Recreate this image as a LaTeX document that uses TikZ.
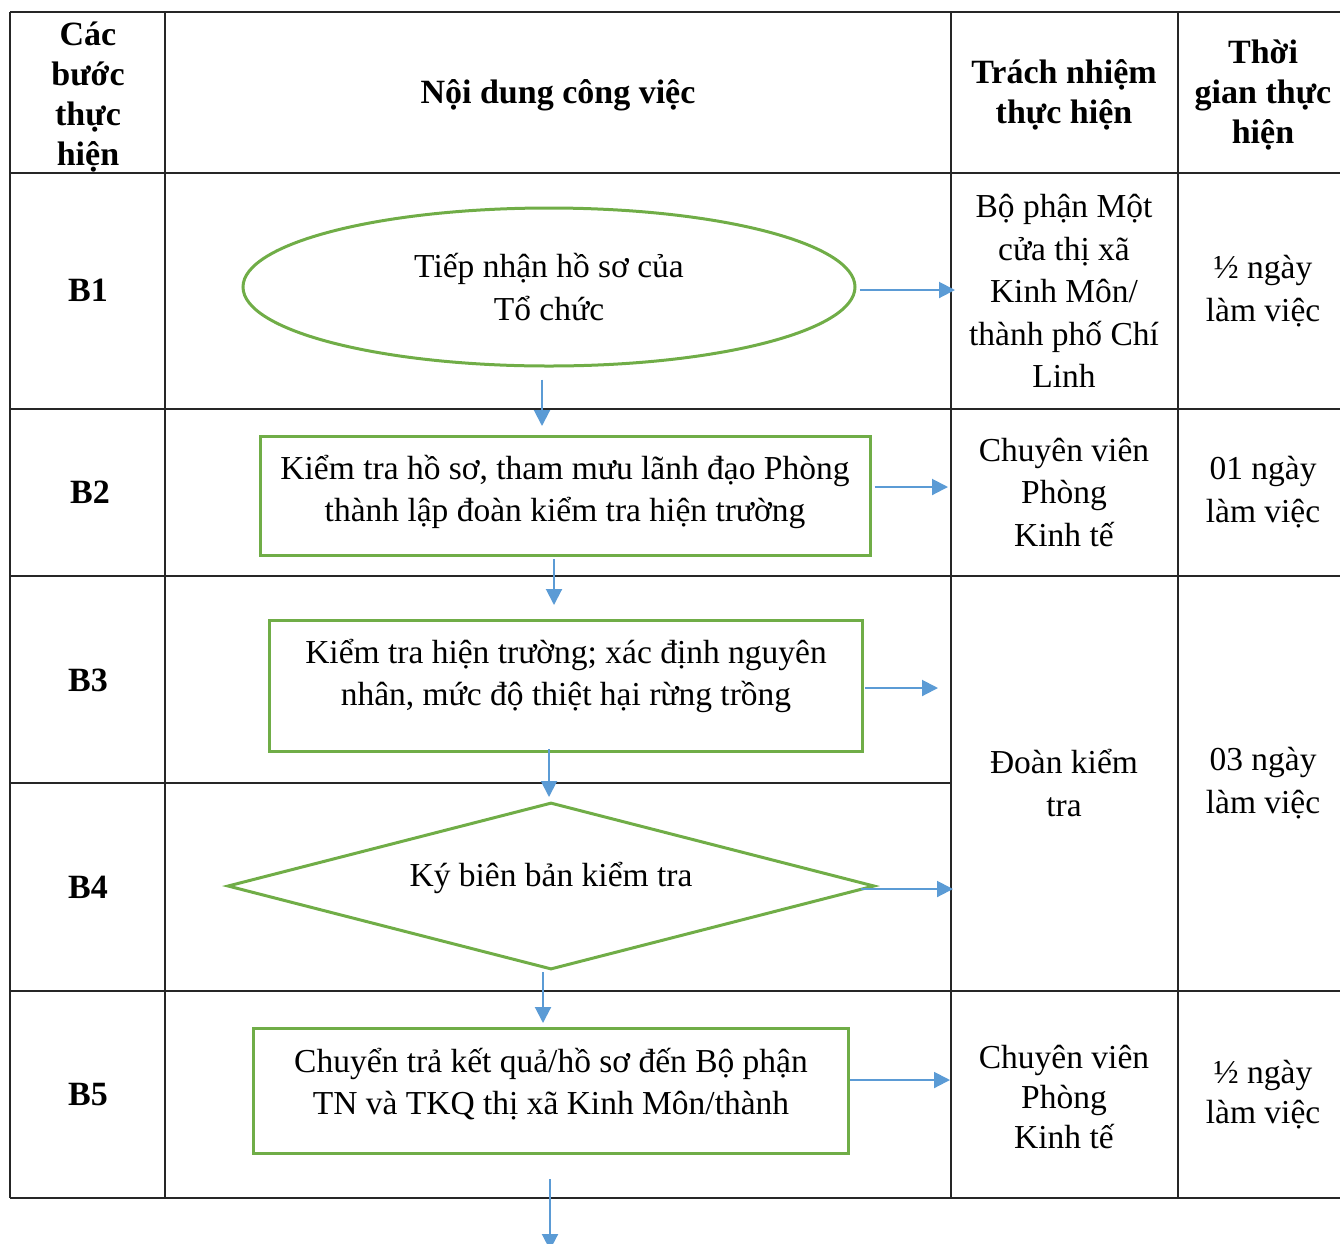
\documentclass[tikz,border=0pt]{standalone}
\usepackage{fontspec}
\setmainfont{Liberation Serif}
\usetikzlibrary{shapes.geometric,arrows.meta}
\definecolor{xanhla}{RGB}{112,173,71}
\definecolor{xanhduong}{RGB}{91,155,213}

\begin{document}
\begin{tikzpicture}[x=1pt,y=-1pt,
  every node/.style={font=\fontsize{33.5}{42.5}\selectfont, align=center},
  hdr/.style={font=\fontsize{34}{40}\selectfont\bfseries},
  khung/.style={draw=xanhla, line width=3pt, rectangle, inner sep=0pt},
  flow/.style={draw=xanhduong, line width=2pt, -{Triangle[width=16pt,length=16pt]}},
  bang/.style={line width=2pt, black!85}]
\useasboundingbox (0,0) rectangle (1340,1243);

% table
\draw[bang] (10,12) -- (1340,12);
\draw[bang] (10,173) -- (1340,173);
\draw[bang] (10,409) -- (1340,409);
\draw[bang] (10,576) -- (1340,576);
\draw[bang] (10,783) -- (951,783);
\draw[bang] (10,991) -- (1340,991);
\draw[bang] (10,1198) -- (1340,1198);
\draw[bang] (10,12) -- (10,1198);
\draw[bang] (165,12) -- (165,1198);
\draw[bang] (951,12) -- (951,1198);
\draw[bang] (1178,12) -- (1178,1198);

% header
\node[hdr] (hbuoc) at (88,97) {Các\\bước\\thực\\hiện};
\node[hdr] (hnoidung) at (558,95) {Nội dung công việc};
\node[hdr] (htrach) at (1064,95) {Trách nhiệm\\thực hiện};
\node[hdr] (hthoigian) at (1263,95) {Thời\\gian thực\\hiện};

% steps
\node[hdr] (b1) at (88,290) {B1};
\node[hdr] (b2) at (90,492) {B2};
\node[hdr] (b3) at (88,680) {B3};
\node[hdr] (b4) at (88,887) {B4};
\node[hdr] (b5) at (88,1095) {B5};

% flow shapes
\node[ellipse, draw=xanhla, line width=3pt, minimum width=612pt, minimum height=158pt, inner sep=0pt] (tiepnhan) at (549,287) {Tiếp nhận hồ sơ của\\Tổ chức};
\node[khung, minimum width=610pt, minimum height=119pt, text depth=15pt] (kiemtrahs) at (565,496) {Kiểm tra hồ sơ, tham mưu lãnh đạo Phòng\\thành lập đoàn kiểm tra hiện trường};
\node[khung, minimum width=593pt, minimum height=131pt, text depth=27pt] (kiemtraht) at (566,686) {Kiểm tra hiện trường; xác định nguyên\\nhân, mức độ thiệt hại rừng trồng};
\node[diamond, draw=xanhla, line width=3pt, aspect=3.9, inner sep=0pt, minimum width=647pt, minimum height=167pt, text depth=23pt] (kybienban) at (551,886) {Ký biên bản kiểm tra};
\node[khung, minimum width=595pt, minimum height=125pt, text depth=19pt] (chuyentra) at (551,1091) {Chuyển trả kết quả/hồ sơ đến Bộ phận\\TN và TKQ thị xã Kinh Môn/thành};

% responsibility and time
\node (trach1) at (1064,291) {Bộ phận Một\\cửa thị xã\\Kinh Môn/\\thành phố Chí\\Linh};
\node (tg1) at (1263,291) {½ ngày\\làm việc};
\node (trach2) at (1064,492) {Chuyên viên\\Phòng\\Kinh tế};
\node (tg2) at (1263,492) {01 ngày\\làm việc};
\node (trach34) at (1064,783) {Đoàn kiểm\\tra};
\node (tg34) at (1263,783) {03 ngày\\làm việc};
\node[font=\fontsize{33.5}{40}\selectfont] (trach5) at (1064,1097) {Chuyên viên\\Phòng\\Kinh tế};
\node[font=\fontsize{33.5}{40}\selectfont] (tg5) at (1263,1095) {½ ngày\\làm việc};

% arrow ends
\coordinate (r1) at (955,290);
\coordinate (r2) at (948,487);
\coordinate (r3) at (938,688);
\coordinate (r4) at (953,889);
\coordinate (r5) at (950,1080);
\coordinate (ketthuc) at (550,1250);

\draw[flow, shorten <=12pt, shorten >=9pt] (tiepnhan.south) ++(-7,0) -- (kiemtrahs.north -| 542,0);
\draw[flow, shorten <=2pt, shorten >=14pt] (kiemtrahs.south -| 554,0) -- (kiemtraht.north -| 554,0);
\draw[flow, shorten <=-4pt, shorten >=4pt] (kiemtraht.south -| 549,0) -- (kybienban.north -| 549,0);
\draw[flow, shorten <=1pt, shorten >=4pt] (kybienban.south -| 543,0) -- (chuyentra.north -| 543,0);
\draw[flow, shorten <=24pt] (chuyentra.south -| ketthuc) -- (ketthuc);

\draw[flow, shorten <=3pt] (tiepnhan.east |- r1) -- (r1);
\draw[flow, shorten <=3pt] (kiemtrahs.east |- r2) -- (r2);
\draw[flow, shorten <=1pt] (kiemtraht.east |- r3) -- (r3);
\draw[flow, shorten <=-15pt] (kybienban.east |- r4) -- (r4);
\draw[flow] (chuyentra.east |- r5) -- (r5);
\end{tikzpicture}
\end{document}
